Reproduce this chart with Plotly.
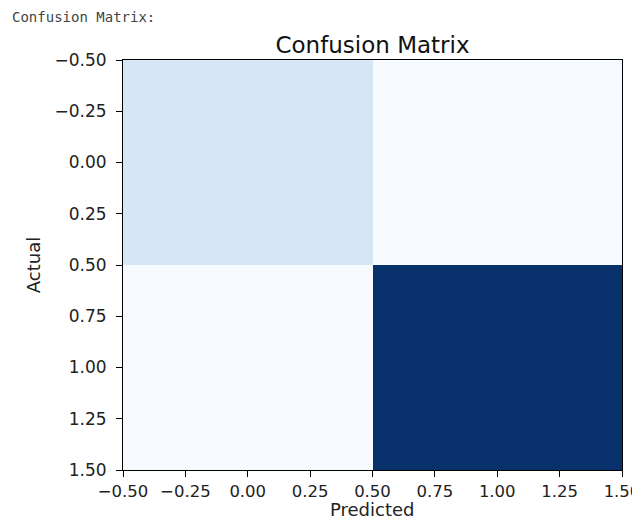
import plotly.graph_objects as go

classes = [0, 1]
matrix = [[160, 4],
          [2, 980]]
tick_vals = [-0.5, -0.25, 0.0, 0.25, 0.5, 0.75, 1.0, 1.25, 1.5]

blues = [[0.0, "#f7fbff"], [0.125, "#deebf7"], [0.25, "#c6dbef"], [0.375, "#9ecae1"],
         [0.5, "#6baed6"], [0.625, "#4292c6"], [0.75, "#2171b5"], [0.875, "#08519c"],
         [1.0, "#08306b"]]

# page has an 8px body margin; compensate so plot area lands at x 123..622, y 60..470
OFF = 8
W, H = 640 - OFF, 521 - OFF
L, T, PW, PH = 123 - OFF, 60 - OFF, 499, 410

fig = go.Figure(go.Heatmap(z=matrix, x=classes, y=classes, colorscale=blues,
                           showscale=False, hoverinfo="z"))

axis_common = dict(range=[-0.5, 1.5], tickvals=tick_vals, tickformat=".2f",
                   showgrid=False, zeroline=False, showline=True, linecolor="black",
                   linewidth=1, mirror=True, ticks="outside", ticklen=6,
                   tickcolor="black", automargin=False, ticklabeloverflow="allow",
                   tickfont=dict(size=17, color="#222"))

fig.update_layout(
    width=W, height=H,
    margin=dict(l=L, r=W - L - PW, t=T, b=H - T - PH),
    paper_bgcolor="white", plot_bgcolor="white",
    font=dict(family="DejaVu Sans", color="#222"),
    title=dict(text="Confusion Matrix", x=(L + PW / 2) / W, xanchor="center",
               y=1 - (45 - OFF) / H, yanchor="middle", font=dict(size=23, color="#111")),
    xaxis=dict(**{**axis_common, "tickfont": dict(size=16.5, color="#222")}),
    yaxis=dict(**{**axis_common, "range": [1.5, -0.5]}, ticklabelstandoff=6,
               title=dict(text="Actual", font=dict(size=18), standoff=9)),
)

# x-axis title placed as an annotation for exact positioning
fig.add_annotation(text="Predicted", xref="paper", yref="paper",
                   x=0.5, y=(T + PH - (509 - OFF)) / PH,
                   xanchor="center", yanchor="middle", showarrow=False,
                   font=dict(family="DejaVu Sans", size=18, color="#222"))

fig.add_annotation(text="Confusion Matrix:", xref="paper", yref="paper",
                   x=-(L - (10 - OFF)) / PW, y=1 + (T - (17 - OFF)) / PH,
                   xanchor="left", yanchor="middle", showarrow=False,
                   font=dict(family="DejaVu Sans Mono", size=14, color="#444"))

fig.write_html("out.html")
